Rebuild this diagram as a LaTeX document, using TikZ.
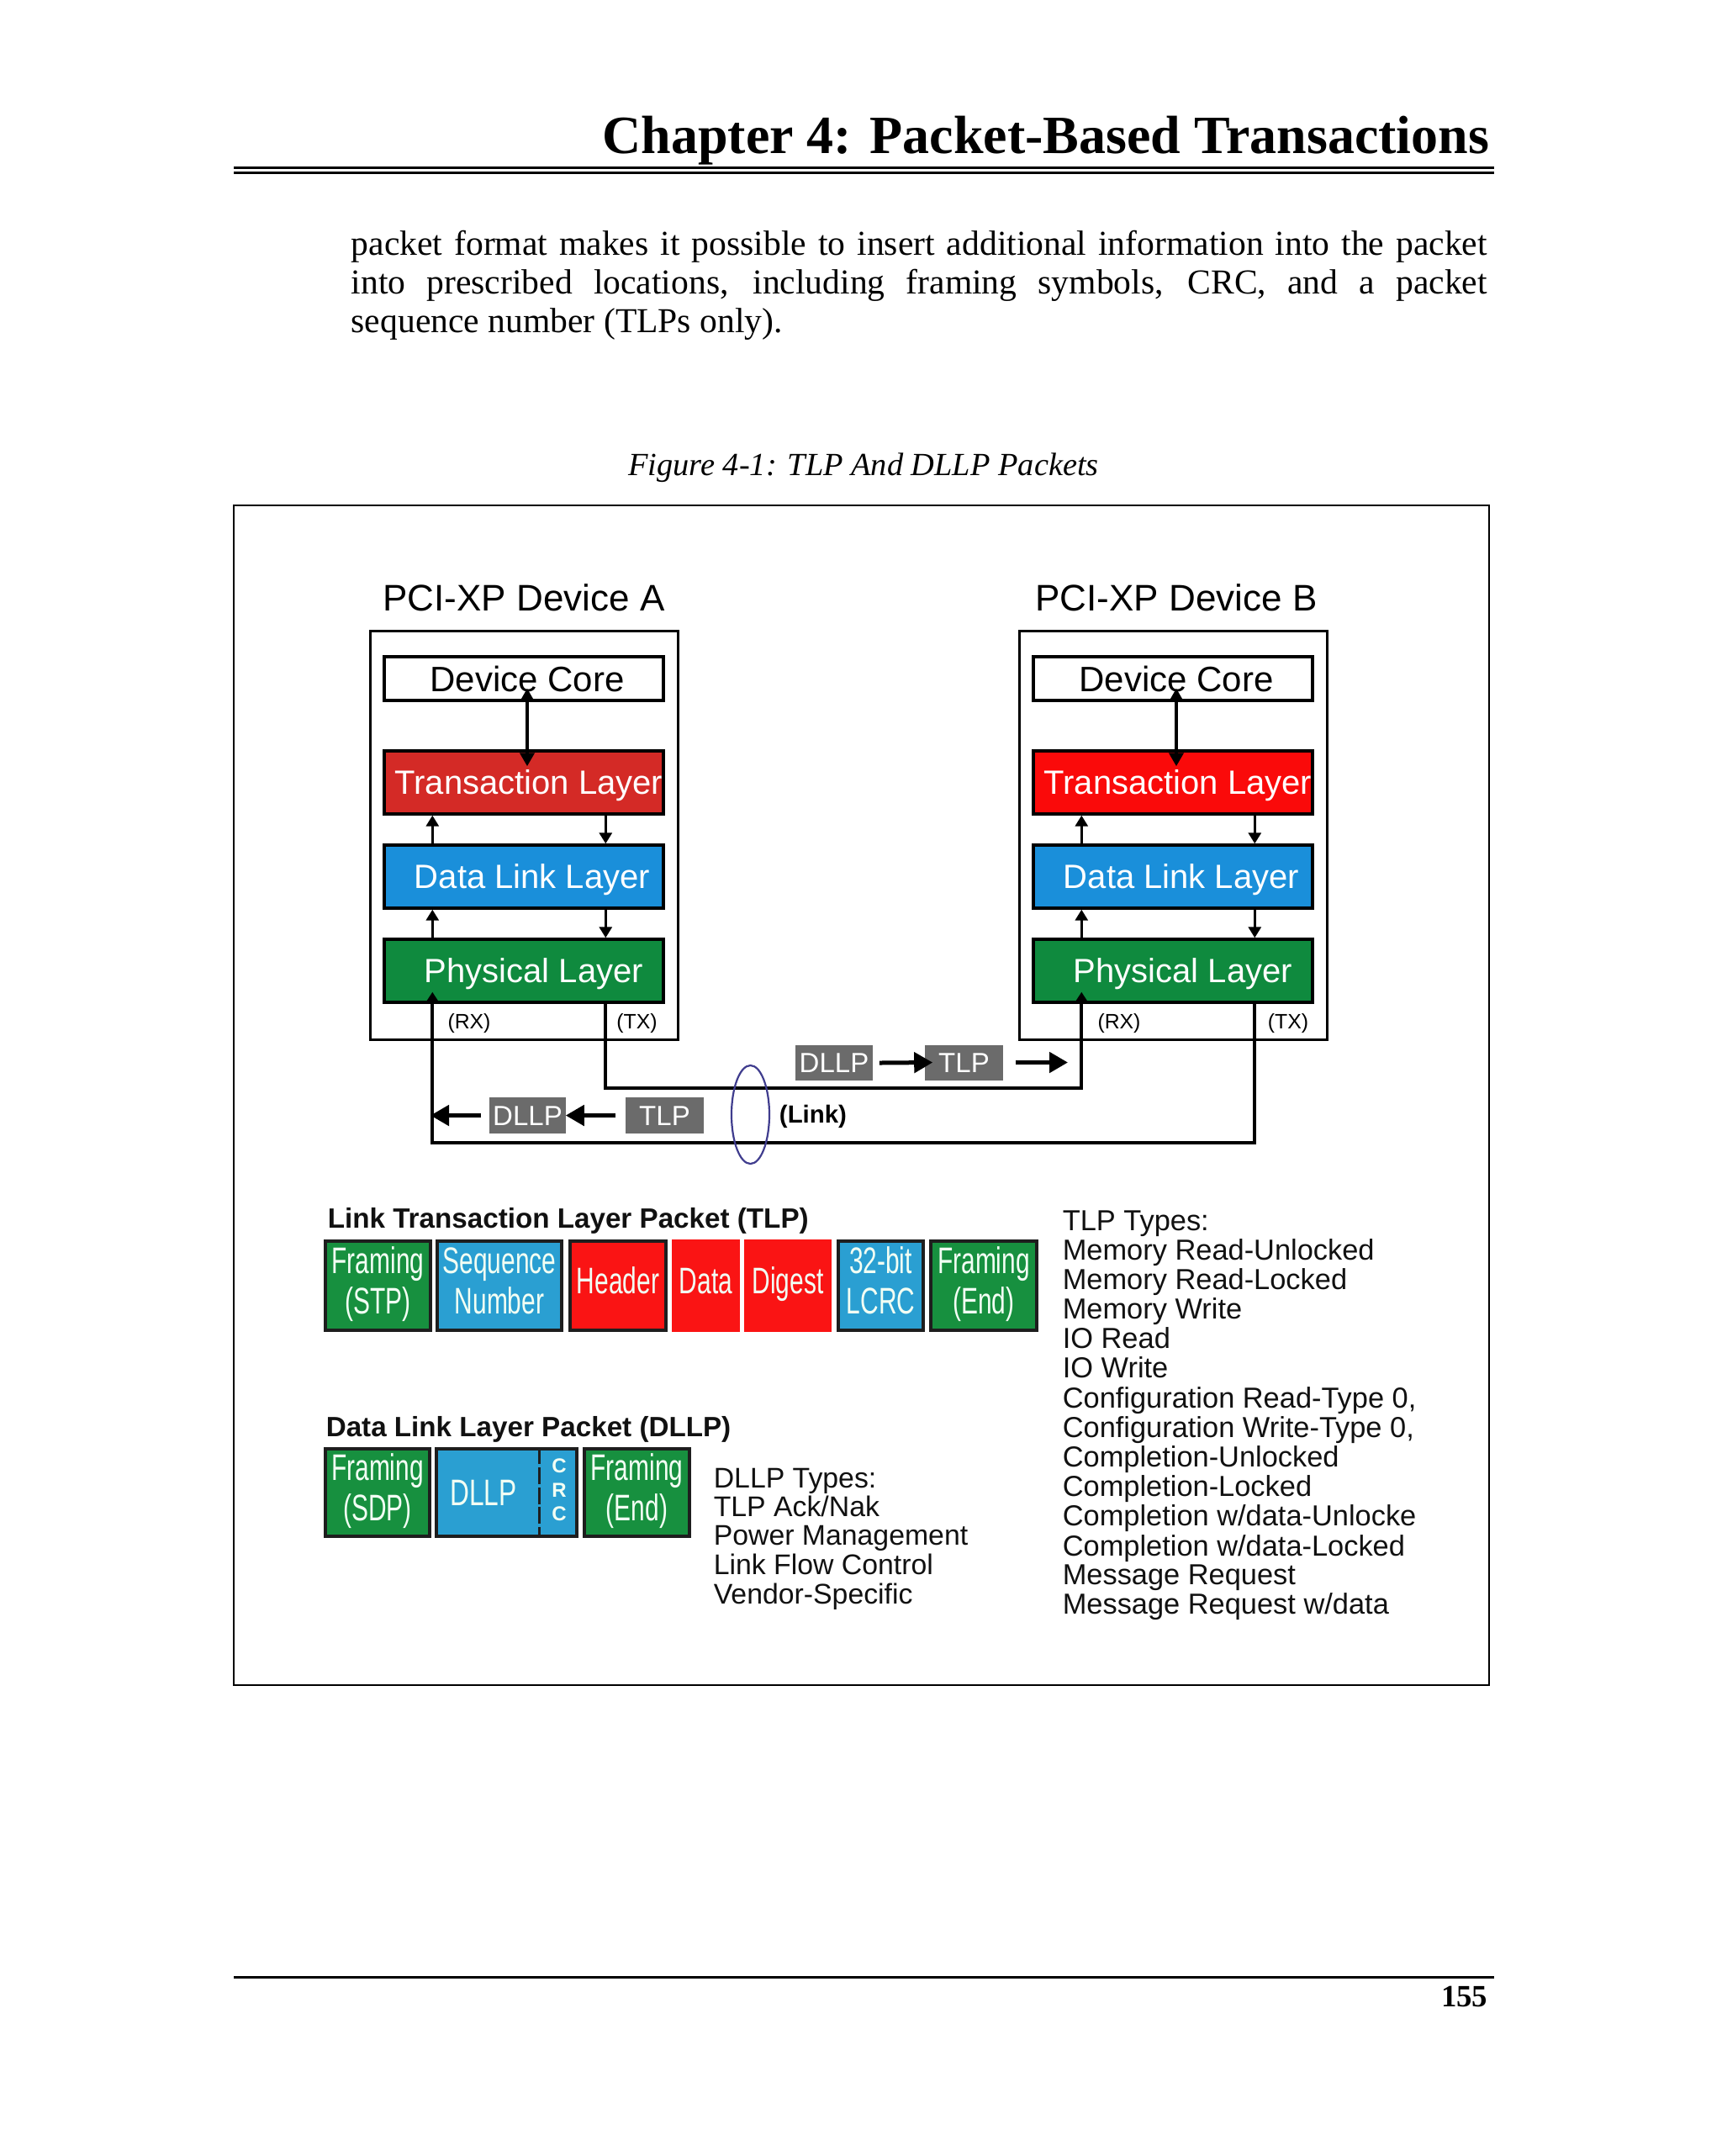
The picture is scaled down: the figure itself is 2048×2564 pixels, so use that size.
\documentclass[tikz,border=0pt]{standalone}
\usepackage{fontspec}
\setmainfont{Liberation Serif}
\setsansfont{Liberation Sans}
\usepackage{graphicx}
\usetikzlibrary{arrows.meta,fit,shapes.geometric}
\definecolor{cTLA}{HTML}{D42A26}
\definecolor{cTLB}{HTML}{FA0A0A}
\definecolor{cDLL}{HTML}{1A8FDA}
\definecolor{cPHY}{HTML}{0F8A3E}
\definecolor{pgreen}{HTML}{17903F}
\definecolor{pblue}{HTML}{2A9FD2}
\definecolor{pred}{HTML}{FA1414}
\definecolor{pgrey}{HTML}{6B6B6B}
\definecolor{linkc}{HTML}{403D8E}
\definecolor{boxtext}{HTML}{F2FFF4}
\definecolor{pborder}{HTML}{1E1E1E}
\definecolor{txt}{HTML}{111111}
\newcommand\fs[2]{\fontsize{#1pt}{#2pt}\selectfont}
\newcommand\ptxt[1]{\scalebox{0.68}[1]{\begin{tabular}{@{}c@{}}#1\end{tabular}}}
\begin{document}
\begin{tikzpicture}[x=0.25pt,y=-0.25pt,
  lbox/.style={draw=black, line width=0.85pt, inner sep=0pt, text=white, font=\sffamily\fs{10}{12}, text height=7.2pt, text depth=0pt, minimum width=83pt, minimum height=18.75pt},
  dbox/.style={draw=black, line width=0.75pt, inner sep=0pt},
  corebox/.style={draw=black, line width=0.8pt, inner sep=0pt, fill=white, font=\sffamily\fs{10.5}{12}, text height=7.5pt, text depth=0pt, minimum width=83pt, minimum height=13pt},
  gbox/.style={fill=pgrey, inner sep=0pt, text=white, font=\sffamily\fs{8.25}{10}, text height=5.9pt, text depth=0pt},
  pbox/.style={draw=pborder, line width=0.8pt, inner sep=0pt, text=boxtext, font=\sffamily\fs{11}{12}},
  tlpbox/.style={pbox, minimum height=26.5pt},
  dlbox/.style={pbox, minimum height=26pt},
  larrow/.style={line width=0.75pt, -{Triangle[length=3.25pt,width=3.75pt]}},
  linkline/.style={line width=1pt, -{Triangle[length=3.5pt,width=4.25pt]}},
  fat/.style={line width=1.25pt, -{Triangle[length=5.5pt,width=6pt]}},
  corearrow/.style={line width=1pt, {Triangle[length=4pt,width=4.25pt]}-{Triangle[length=4pt,width=4.25pt]}},
  lbl/.style={font=\sffamily\fs{6.2}{7}, inner sep=0pt},
  typestxt/.style={anchor=base west, inner sep=0pt, text=txt}
]
\fill[white] (0,0) rectangle (2048,2564);
\useasboundingbox (0,0) rectangle (2048,2564);

% ---------- page ----------
\node[anchor=base east, inner sep=0pt, font=\bfseries\fs{16}{18}] (title) at (1772,182) {Chapter 4: Packet-Based Transactions};
\draw[line width=0.8pt] (278,199.5) -- (1777,199.5);
\draw[line width=0.65pt] (278,205.5) -- (1777,205.5);

\node[anchor=base west, inner sep=0pt, font=\fs{10.4}{12}] (p1) at (417,303) {\makebox[337.75pt][s]{packet format makes it possible to insert additional information into the packet}};
\node[anchor=base west, inner sep=0pt, font=\fs{10.4}{12}] (p2) at (417,349) {\makebox[337.75pt][s]{into prescribed locations, including framing symbols, CRC, and a packet}};
\node[anchor=base west, inner sep=0pt, font=\fs{10.4}{12}] (p3) at (417,395) {sequence number (TLPs only).};

\node[anchor=base, inner sep=0pt, font=\itshape\fs{9.6}{11}] (cap) at (1027,565) {Figure 4-1: TLP And DLLP Packets};

\node[draw, line width=0.65pt, inner sep=0pt, fit={(278,601) (1771,2004)}] (frame) {};

\draw[line width=0.75pt] (278,2351) -- (1777,2351);
\node[anchor=base east, inner sep=0pt, font=\bfseries\fs{9.2}{11}] (pnum) at (1770,2386) {155};

% ---------- devices ----------
\node[dbox, fit={(440,750) (806,1236)}] (devA) {};
\node[dbox, fit={(1212,750) (1578,1236)}] (devB) {};
\node[anchor=base, inner sep=0pt, font=\sffamily\fs{11}{13}] (labA) at (623,726) {PCI-XP Device A};
\node[anchor=base, inner sep=0pt, font=\sffamily\fs{11}{13}] (labB) at (1399,726) {PCI-XP Device B};

\node[corebox] (coreA) at (623,807) {\hspace*{2pt}Device Core};
\node[lbox, fill=cTLA] (tlA) at (623,930.5) {\hspace*{3pt}Transaction Layer};
\node[lbox, fill=cDLL] (dllA) at (623,1042.5) {\hspace*{5pt}Data Link Layer};
\node[lbox, fill=cPHY] (phyA) at (623,1154.5) {\hspace*{6pt}Physical Layer};

\node[corebox] (coreB) at (1395,807) {\hspace*{2pt}Device Core};
\node[lbox, fill=cTLB] (tlB) at (1395,930.5) {\hspace*{3pt}Transaction Layer};
\node[lbox, fill=cDLL] (dllB) at (1395,1042.5) {\hspace*{5pt}Data Link Layer};
\node[lbox, fill=cPHY] (phyB) at (1395,1154.5) {\hspace*{6pt}Physical Layer};

\node[lbl] (rxA) at (558,1217) {(RX)};
\node[lbl] (txA) at (757.5,1217) {(TX)};
\node[lbl] (rxB) at (1331,1217) {(RX)};
\node[lbl] (txB) at (1532,1217) {(TX)};

% links
\draw[linkline] ([shift={(265,0)}]phyA.south west) -- ++(0,100) -| ([shift={(59,-14)}]phyB.south west);
\draw[linkline] ([shift={(265,0)}]phyB.south west) -- ++(0,165) -| ([shift={(59,-14)}]phyA.south west);

% inner arrows A
\draw[corearrow] ([shift={(4,-16)}]coreA.south) -- ([shift={(4,20)}]tlA.north);
\draw[larrow] ([shift={(59,0)}]dllA.north west) -- ([shift={(59,0)}]tlA.south west);
\draw[larrow] ([shift={(265,0)}]tlA.south west) -- ([shift={(265,0)}]dllA.north west);
\draw[larrow] ([shift={(59,0)}]phyA.north west) -- ([shift={(59,0)}]dllA.south west);
\draw[larrow] ([shift={(265,0)}]dllA.south west) -- ([shift={(265,0)}]phyA.north west);
% inner arrows B
\draw[corearrow] ([shift={(4,-16)}]coreB.south) -- ([shift={(4,20)}]tlB.north);
\draw[larrow] ([shift={(59,0)}]dllB.north west) -- ([shift={(59,0)}]tlB.south west);
\draw[larrow] ([shift={(265,0)}]tlB.south west) -- ([shift={(265,0)}]dllB.north west);
\draw[larrow] ([shift={(59,0)}]phyB.north west) -- ([shift={(59,0)}]dllB.south west);
\draw[larrow] ([shift={(265,0)}]dllB.south west) -- ([shift={(265,0)}]phyB.north west);

% packets on the link
\node[gbox, minimum width=23pt, minimum height=10.5pt] (dllpU) at (992,1264) {DLLP};
\node[gbox, minimum width=23.25pt, minimum height=10.5pt] (tlpU) at (1146.5,1263.5) {TLP};
\node[gbox, minimum width=22.75pt, minimum height=10.75pt] (dllpL) at (627.5,1326.5) {DLLP};
\node[gbox, minimum width=23.25pt, minimum height=10.75pt] (tlpL) at (790.5,1326.5) {TLP};
\coordinate (uEnd) at (1270,1263.5);
\coordinate (lEnd) at (512,1326.5);
\draw[fat] ([shift={(7,0)}]dllpU.east) -- ([shift={(10,0)}]tlpU.west);
\draw[fat] ([shift={(14,0)}]tlpU.east) -- (uEnd);
\draw[fat] ([shift={(-11,0)}]tlpL.west) -- ([shift={(-1,0)}]dllpL.east);
\draw[fat] ([shift={(-9,0)}]dllpL.west) -- (lEnd);

\node[draw=linkc, ellipse, line width=0.55pt, minimum width=11.25pt, minimum height=29.25pt, inner sep=0pt] (linkE) at (892.5,1325.5) {};
\node[font=\sffamily\bfseries\fs{7.35}{9}, inner sep=0pt] (linkT) at (967,1328) {(Link)};

% ---------- TLP format ----------
\node[anchor=base west, inner sep=0pt, font=\sffamily\bfseries\fs{8.3}{10}, text=txt] (tlpHead) at (389,1460) {Link Transaction Layer Packet (TLP)};
\node[tlpbox, fill=pgreen, minimum width=31.25pt] (fstp) at (449.5,1529) {\ptxt{Framing\\(STP)}};
\node[tlpbox, fill=pblue, minimum width=37pt] (seq) at (594,1529) {\ptxt{Sequence\\Number}};
\node[tlpbox, fill=pred, minimum width=28.5pt] (hdr) at (735,1529) {\ptxt{Header}};
\node[tlpbox, fill=pred, draw=pred, minimum width=19.25pt] (dat) at (839.5,1529) {\ptxt{Data}};
\node[tlpbox, fill=pred, draw=pred, minimum width=25pt] (dig) at (937,1529) {\ptxt{Digest}};
\node[tlpbox, fill=pblue, minimum width=25.25pt] (lcrc) at (1047.5,1529) {\ptxt{32-bit\\LCRC}};
\node[tlpbox, fill=pgreen, minimum width=31.5pt] (fend) at (1170,1529) {\ptxt{Framing\\(End)}};

% ---------- DLLP format ----------
\node[anchor=base west, inner sep=0pt, font=\sffamily\bfseries\fs{8.3}{10}, text=txt] (dllpHead) at (387,1708) {Data Link Layer Packet (DLLP)};
\node[dlbox, fill=pgreen, minimum width=31pt] (fsdp) at (449,1775) {\ptxt{Framing\\(SDP)}};
\node[dlbox, fill=pblue, minimum width=41.75pt] (dllpbox) at (602.5,1775) {};
\draw[line width=0.75pt, pborder, dash pattern=on 5pt off 0.9pt] ([shift={(124,0)}]dllpbox.north west) -- ([shift={(124,0)}]dllpbox.south west);
\node[text=boxtext, font=\sffamily\fs{11}{12}, inner sep=0pt] (dllpTxt) at (575,1775) {\scalebox{0.72}[1]{DLLP}};
\node[text=boxtext, font=\sffamily\bfseries\fs{6}{7.1}, align=center, inner sep=0pt] (crc) at (665,1772) {C\\R\\C};
\node[dlbox, fill=pgreen, minimum width=31.25pt] (fend2) at (757.5,1775) {\ptxt{Framing\\(End)}};

\node[typestxt, font=\sffamily\fs{8.45}{8.55}] (dllpTypes) at (848,1769) {\begin{tabular}[t]{@{}l@{}}DLLP Types:\\TLP Ack/Nak\\Power Management\\Link Flow Control\\Vendor-Specific\end{tabular}};

\node[typestxt, font=\sffamily\fs{8.6}{8.55}] (tlpTypes) at (1263,1463) {\begin{tabular}[t]{@{}l@{}}TLP Types:\\Memory Read-Unlocked\\Memory Read-Locked\\Memory Write\\IO Read\\IO Write\\Configuration Read-Type 0,\\Configuration Write-Type 0,\\Completion-Unlocked\\Completion-Locked\\Completion w/data-Unlocke\\Completion w/data-Locked\\Message Request\\Message Request w/data\end{tabular}};
\end{tikzpicture}
\end{document}
